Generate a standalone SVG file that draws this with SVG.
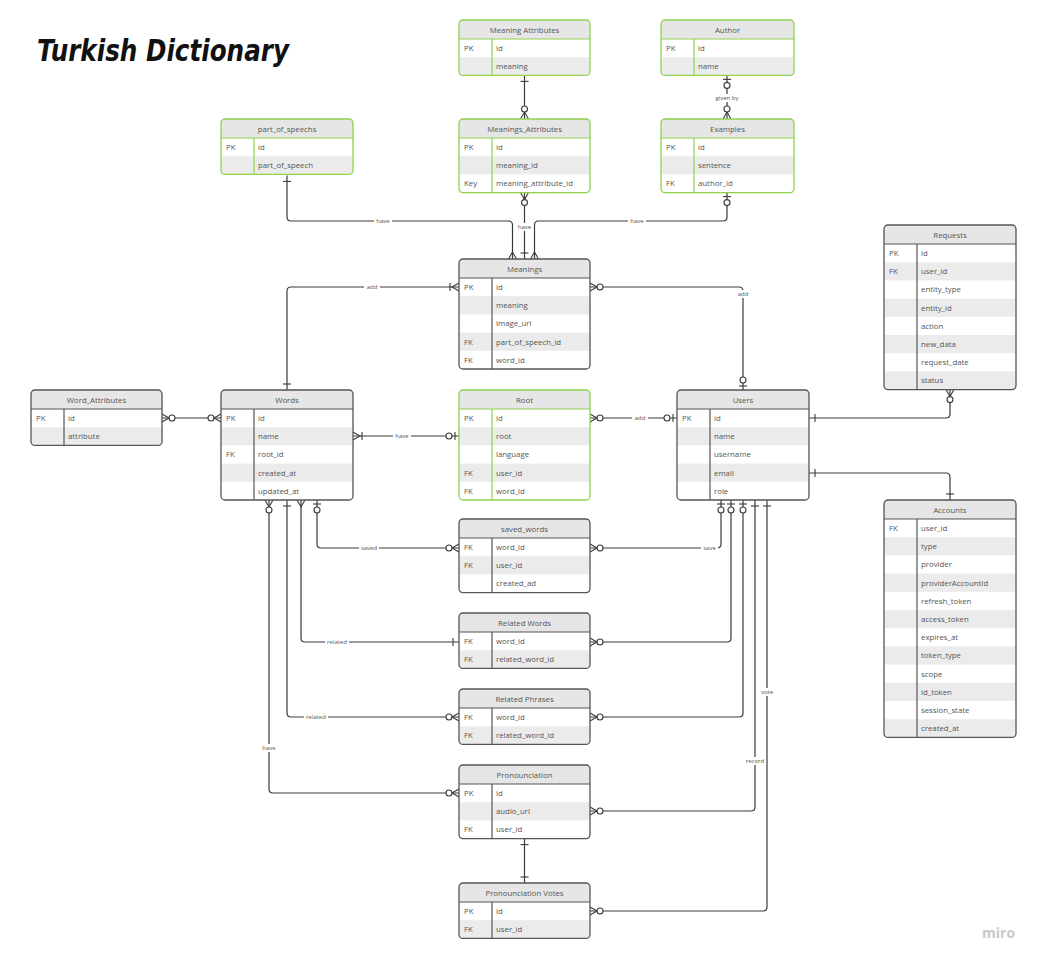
<svg xmlns="http://www.w3.org/2000/svg" width="1040" height="961" viewBox="0 0 1040 961">
<style>
text{font-family:"Open Sans","Liberation Sans",sans-serif;font-size:7.8px;fill:#555}
.h{text-anchor:middle}
.bg{fill:#fff}
.hd{fill:#e6e6e6}
.alt{fill:#ebebeb}
.ob{fill:none;stroke-width:1.3}
.G .ob,.G line{stroke:#8fd14f}
.D .ob,.D line{stroke:#555}
.G line,.D line{stroke-width:1.2}
.cn{fill:none;stroke:#3a3a3a;stroke-width:1.2}
.lb{font-size:6px;text-anchor:middle;fill:#555}
.lbg{fill:#fff}
.mk{fill:none;stroke:#3a3a3a;stroke-width:1.1}
.mc{fill:#fff;stroke:#3a3a3a;stroke-width:1.1}
.title{font-family:"DejaVu Sans",sans-serif;font-style:oblique;font-weight:bold;font-size:30px;fill:#111}
.miro{font-family:"Open Sans",sans-serif;font-weight:bold;font-size:14px;fill:#c8c8c8}
</style>
<defs>
<marker id="one" markerUnits="userSpaceOnUse" orient="auto-start-reverse" refX="0" refY="0" markerWidth="20" markerHeight="20" overflow="visible"><path class="mk" d="M-6,-4V4"/></marker>
<marker id="many" markerUnits="userSpaceOnUse" orient="auto-start-reverse" refX="0" refY="0" markerWidth="20" markerHeight="20" overflow="visible"><path class="mk" d="M0,-4L-7,0L0,4"/></marker>
<marker id="zmany" markerUnits="userSpaceOnUse" orient="auto-start-reverse" refX="0" refY="0" markerWidth="20" markerHeight="20" overflow="visible"><path class="mk" d="M0,-4L-7,0L0,4"/><circle class="mc" cx="-10" cy="0" r="3"/></marker>
<marker id="zone" markerUnits="userSpaceOnUse" orient="auto-start-reverse" refX="0" refY="0" markerWidth="20" markerHeight="20" overflow="visible"><path class="mk" d="M-4,-4V4"/><circle class="mc" cx="-10" cy="0" r="3"/></marker>
<marker id="omany" markerUnits="userSpaceOnUse" orient="auto-start-reverse" refX="0" refY="0" markerWidth="20" markerHeight="20" overflow="visible"><path class="mk" d="M0,-4L-7,0L0,4M-9,-4V4"/></marker>
</defs>
<rect width="1040" height="961" fill="#fff"/>
<text class="title" x="37" y="61" textLength="252" lengthAdjust="spacingAndGlyphs">Turkish Dictionary</text>

<g id="connectors">
<path class="cn" d="M524.5,75.4V119" marker-start="url(#one)" marker-end="url(#zmany)"/>
<path class="cn" d="M727,75.4V119" marker-start="url(#zone)" marker-end="url(#zmany)"/>
<path class="cn" d="M287,175.4V217Q287,221 291,221H508.5Q512.5,221 512.5,225V259" marker-start="url(#one)" marker-end="url(#many)"/>
<path class="cn" d="M524.5,192.6V259" marker-start="url(#zmany)" marker-end="url(#one)"/>
<path class="cn" d="M727,192.6V217Q727,221 723,221H538.5Q534.5,221 534.5,225V259" marker-start="url(#zone)" marker-end="url(#many)"/>
<path class="cn" d="M287,390V291Q287,287 291,287H459" marker-start="url(#one)" marker-end="url(#omany)"/>
<path class="cn" d="M590,287H739Q743,287 743,291V390" marker-start="url(#zmany)" marker-end="url(#zone)"/>
<path class="cn" d="M162,418H221" marker-start="url(#zmany)" marker-end="url(#zmany)"/>
<path class="cn" d="M459,436H353" marker-start="url(#zone)" marker-end="url(#omany)"/>
<path class="cn" d="M590,418H677" marker-start="url(#zmany)" marker-end="url(#zone)"/>
<path class="cn" d="M809,418H946Q950,418 950,414V389.6" marker-start="url(#one)" marker-end="url(#zmany)"/>
<path class="cn" d="M809,473H946Q950,473 950,477V500" marker-start="url(#one)" marker-end="url(#one)"/>
<path class="cn" d="M317,500V544Q317,548 321,548H459" marker-start="url(#zone)" marker-end="url(#zmany)"/>
<path class="cn" d="M301,500V638Q301,642 305,642H459" marker-start="url(#many)" marker-end="url(#one)"/>
<path class="cn" d="M287,500V713Q287,717 291,717H459" marker-start="url(#one)" marker-end="url(#zmany)"/>
<path class="cn" d="M269,500V789Q269,793 273,793H459" marker-start="url(#zmany)" marker-end="url(#zmany)"/>
<path class="cn" d="M721,500V544Q721,548 717,548H590" marker-start="url(#zone)" marker-end="url(#zmany)"/>
<path class="cn" d="M731,500V638Q731,642 727,642H590" marker-start="url(#zone)" marker-end="url(#zmany)"/>
<path class="cn" d="M743,500V713Q743,717 739,717H590" marker-start="url(#zone)" marker-end="url(#zmany)"/>
<path class="cn" d="M755,500V807Q755,811 751,811H590" marker-start="url(#one)" marker-end="url(#zmany)"/>
<path class="cn" d="M767,500V907Q767,911 763,911H590" marker-start="url(#one)" marker-end="url(#zmany)"/>
<path class="cn" d="M524.5,838.6V883" marker-start="url(#one)" marker-end="url(#one)"/>
<rect class="lbg" x="711" y="94" width="32" height="8"/><text class="lb" x="727" y="100">given by</text>
<rect class="lbg" x="374" y="217" width="18" height="8"/><text class="lb" x="383" y="223">have</text>
<rect class="lbg" x="516" y="223" width="17" height="8"/><text class="lb" x="524.5" y="229">have</text>
<rect class="lbg" x="628" y="217" width="18" height="8"/><text class="lb" x="637" y="223">have</text>
<rect class="lbg" x="364" y="283" width="16" height="8"/><text class="lb" x="372" y="289">add</text>
<rect class="lbg" x="735" y="290" width="16" height="8"/><text class="lb" x="743" y="296">add</text>
<rect class="lbg" x="393" y="432" width="18" height="8"/><text class="lb" x="402" y="438">have</text>
<rect class="lbg" x="632" y="414" width="16" height="8"/><text class="lb" x="640" y="420">add</text>
<rect class="lbg" x="359" y="544" width="20" height="8"/><text class="lb" x="369" y="550">saved</text>
<rect class="lbg" x="701" y="544" width="17" height="8"/><text class="lb" x="709.5" y="550">save</text>
<rect class="lbg" x="325" y="638" width="24" height="8"/><text class="lb" x="337" y="644">related</text>
<rect class="lbg" x="304" y="713" width="24" height="8"/><text class="lb" x="316" y="719">related</text>
<rect class="lbg" x="260" y="744" width="18" height="8"/><text class="lb" x="269" y="750">have</text>
<rect class="lbg" x="744" y="757" width="22" height="8"/><text class="lb" x="755" y="763">record</text>
<rect class="lbg" x="759" y="688" width="16" height="8"/><text class="lb" x="767" y="694">vote</text>
</g>

<g id="meaning-attributes" class="G" transform="translate(459,20)">
<rect class="bg" width="131" height="55.4" rx="4"/>
<path class="hd" d="M0,19V4Q0,0 4,0H127Q131,0 131,4V19Z"/>
<rect class="alt" x="0.6" y="37.2" width="129.8" height="17.6"/>
<line x1="0" y1="19" x2="131" y2="19"/><line x1="33" y1="19" x2="33" y2="55.4"/>
<rect class="ob" width="131" height="55.4" rx="4"/>
<text class="h" x="65.5" y="13">Meaning Attributes</text>
<text x="5" y="31">PK</text><text x="37" y="31">id</text>
<text x="37" y="49.2">meaning</text>
</g>

<g id="author" class="G" transform="translate(661,20)">
<rect class="bg" width="133" height="55.4" rx="4"/>
<path class="hd" d="M0,19V4Q0,0 4,0H129Q133,0 133,4V19Z"/>
<rect class="alt" x="0.6" y="37.2" width="131.8" height="17.6"/>
<line x1="0" y1="19" x2="133" y2="19"/><line x1="33" y1="19" x2="33" y2="55.4"/>
<rect class="ob" width="133" height="55.4" rx="4"/>
<text class="h" x="66.5" y="13">Author</text>
<text x="5" y="31">PK</text><text x="37" y="31">id</text>
<text x="37" y="49.2">name</text>
</g>

<g id="part-of-speechs" class="G" transform="translate(221,119)">
<rect class="bg" width="132" height="55.4" rx="4"/>
<path class="hd" d="M0,19V4Q0,0 4,0H128Q132,0 132,4V19Z"/>
<rect class="alt" x="0.6" y="37.2" width="130.8" height="17.6"/>
<line x1="0" y1="19" x2="132" y2="19"/><line x1="33" y1="19" x2="33" y2="55.4"/>
<rect class="ob" width="132" height="55.4" rx="4"/>
<text class="h" x="66" y="13">part_of_speechs</text>
<text x="5" y="31">PK</text><text x="37" y="31">id</text>
<text x="37" y="49.2">part_of_speech</text>
</g>

<g id="meanings-attributes" class="G" transform="translate(459,119)">
<rect class="bg" width="131" height="73.6" rx="4"/>
<path class="hd" d="M0,19V4Q0,0 4,0H127Q131,0 131,4V19Z"/>
<rect class="alt" x="0.6" y="37.2" width="129.8" height="18.2"/>
<line x1="0" y1="19" x2="131" y2="19"/><line x1="33" y1="19" x2="33" y2="73.6"/>
<rect class="ob" width="131" height="73.6" rx="4"/>
<text class="h" x="65.5" y="13">Meanings_Attributes</text>
<text x="5" y="31">PK</text><text x="37" y="31">id</text>
<text x="37" y="49.2">meaning_id</text>
<text x="5" y="67.4">Key</text><text x="37" y="67.4">meaning_attribute_id</text>
</g>

<g id="examples" class="G" transform="translate(661,119)">
<rect class="bg" width="133" height="73.6" rx="4"/>
<path class="hd" d="M0,19V4Q0,0 4,0H129Q133,0 133,4V19Z"/>
<rect class="alt" x="0.6" y="37.2" width="131.8" height="18.2"/>
<line x1="0" y1="19" x2="133" y2="19"/><line x1="33" y1="19" x2="33" y2="73.6"/>
<rect class="ob" width="133" height="73.6" rx="4"/>
<text class="h" x="66.5" y="13">Examples</text>
<text x="5" y="31">PK</text><text x="37" y="31">id</text>
<text x="37" y="49.2">sentence</text>
<text x="5" y="67.4">FK</text><text x="37" y="67.4">author_id</text>
</g>

<g id="meanings" class="D" transform="translate(459,259)">
<rect class="bg" width="131" height="110" rx="4"/>
<path class="hd" d="M0,19V4Q0,0 4,0H127Q131,0 131,4V19Z"/>
<rect class="alt" x="0.6" y="37.2" width="129.8" height="18.2"/>
<rect class="alt" x="0.6" y="73.6" width="129.8" height="18.2"/>
<line x1="0" y1="19" x2="131" y2="19"/><line x1="33" y1="19" x2="33" y2="110"/>
<rect class="ob" width="131" height="110" rx="4"/>
<text class="h" x="65.5" y="13">Meanings</text>
<text x="5" y="31">PK</text><text x="37" y="31">id</text>
<text x="37" y="49.2">meaning</text>
<text x="37" y="67.4">image_url</text>
<text x="5" y="85.6">FK</text><text x="37" y="85.6">part_of_speech_id</text>
<text x="5" y="103.8">FK</text><text x="37" y="103.8">word_id</text>
</g>

<g id="requests" class="D" transform="translate(884,225)">
<rect class="bg" width="132" height="164.6" rx="4"/>
<path class="hd" d="M0,19V4Q0,0 4,0H128Q132,0 132,4V19Z"/>
<rect class="alt" x="0.6" y="37.2" width="130.8" height="18.2"/>
<rect class="alt" x="0.6" y="73.6" width="130.8" height="18.2"/>
<rect class="alt" x="0.6" y="110" width="130.8" height="18.2"/>
<rect class="alt" x="0.6" y="146.4" width="130.8" height="17.6"/>
<line x1="0" y1="19" x2="132" y2="19"/><line x1="33" y1="19" x2="33" y2="164.6"/>
<rect class="ob" width="132" height="164.6" rx="4"/>
<text class="h" x="66" y="13">Requests</text>
<text x="5" y="31">PK</text><text x="37" y="31">id</text>
<text x="5" y="49.2">FK</text><text x="37" y="49.2">user_id</text>
<text x="37" y="67.4">entity_type</text>
<text x="37" y="85.6">entity_id</text>
<text x="37" y="103.8">action</text>
<text x="37" y="122">new_data</text>
<text x="37" y="140.2">request_date</text>
<text x="37" y="158.4">status</text>
</g>

<g id="word-attributes" class="D" transform="translate(31,390)">
<rect class="bg" width="131" height="55.4" rx="4"/>
<path class="hd" d="M0,19V4Q0,0 4,0H127Q131,0 131,4V19Z"/>
<rect class="alt" x="0.6" y="37.2" width="129.8" height="17.6"/>
<line x1="0" y1="19" x2="131" y2="19"/><line x1="33" y1="19" x2="33" y2="55.4"/>
<rect class="ob" width="131" height="55.4" rx="4"/>
<text class="h" x="65.5" y="13">Word_Attributes</text>
<text x="5" y="31">PK</text><text x="37" y="31">id</text>
<text x="37" y="49.2">attribute</text>
</g>

<g id="words" class="D" transform="translate(221,390)">
<rect class="bg" width="132" height="110" rx="4"/>
<path class="hd" d="M0,19V4Q0,0 4,0H128Q132,0 132,4V19Z"/>
<rect class="alt" x="0.6" y="37.2" width="130.8" height="18.2"/>
<rect class="alt" x="0.6" y="73.6" width="130.8" height="18.2"/>
<line x1="0" y1="19" x2="132" y2="19"/><line x1="33" y1="19" x2="33" y2="110"/>
<rect class="ob" width="132" height="110" rx="4"/>
<text class="h" x="66" y="13">Words</text>
<text x="5" y="31">PK</text><text x="37" y="31">id</text>
<text x="37" y="49.2">name</text>
<text x="5" y="67.4">FK</text><text x="37" y="67.4">root_id</text>
<text x="37" y="85.6">created_at</text>
<text x="37" y="103.8">updated_at</text>
</g>

<g id="root" class="G" transform="translate(459,390)">
<rect class="bg" width="131" height="110" rx="4"/>
<path class="hd" d="M0,19V4Q0,0 4,0H127Q131,0 131,4V19Z"/>
<rect class="alt" x="0.6" y="37.2" width="129.8" height="18.2"/>
<rect class="alt" x="0.6" y="73.6" width="129.8" height="18.2"/>
<line x1="0" y1="19" x2="131" y2="19"/><line x1="33" y1="19" x2="33" y2="110"/>
<rect class="ob" width="131" height="110" rx="4"/>
<text class="h" x="65.5" y="13">Root</text>
<text x="5" y="31">PK</text><text x="37" y="31">id</text>
<text x="37" y="49.2">root</text>
<text x="37" y="67.4">language</text>
<text x="5" y="85.6">FK</text><text x="37" y="85.6">user_id</text>
<text x="5" y="103.8">FK</text><text x="37" y="103.8">word_id</text>
</g>

<g id="users" class="D" transform="translate(677,390)">
<rect class="bg" width="132" height="110" rx="4"/>
<path class="hd" d="M0,19V4Q0,0 4,0H128Q132,0 132,4V19Z"/>
<rect class="alt" x="0.6" y="37.2" width="130.8" height="18.2"/>
<rect class="alt" x="0.6" y="73.6" width="130.8" height="18.2"/>
<line x1="0" y1="19" x2="132" y2="19"/><line x1="33" y1="19" x2="33" y2="110"/>
<rect class="ob" width="132" height="110" rx="4"/>
<text class="h" x="66" y="13">Users</text>
<text x="5" y="31">PK</text><text x="37" y="31">id</text>
<text x="37" y="49.2">name</text>
<text x="37" y="67.4">username</text>
<text x="37" y="85.6">email</text>
<text x="37" y="103.8">role</text>
</g>

<g id="accounts" class="D" transform="translate(884,500)">
<rect class="bg" width="132" height="237.4" rx="4"/>
<path class="hd" d="M0,19V4Q0,0 4,0H128Q132,0 132,4V19Z"/>
<rect class="alt" x="0.6" y="37.2" width="130.8" height="18.2"/>
<rect class="alt" x="0.6" y="73.6" width="130.8" height="18.2"/>
<rect class="alt" x="0.6" y="110" width="130.8" height="18.2"/>
<rect class="alt" x="0.6" y="146.4" width="130.8" height="18.2"/>
<rect class="alt" x="0.6" y="182.8" width="130.8" height="18.2"/>
<rect class="alt" x="0.6" y="219.2" width="130.8" height="17.6"/>
<line x1="0" y1="19" x2="132" y2="19"/><line x1="33" y1="19" x2="33" y2="237.4"/>
<rect class="ob" width="132" height="237.4" rx="4"/>
<text class="h" x="66" y="13">Accounts</text>
<text x="5" y="31">FK</text><text x="37" y="31">user_id</text>
<text x="37" y="49.2">type</text>
<text x="37" y="67.4">provider</text>
<text x="37" y="85.6">providerAccountId</text>
<text x="37" y="103.8">refresh_token</text>
<text x="37" y="122">access_token</text>
<text x="37" y="140.2">expires_at</text>
<text x="37" y="158.4">token_type</text>
<text x="37" y="176.6">scope</text>
<text x="37" y="194.8">id_token</text>
<text x="37" y="213">session_state</text>
<text x="37" y="231.2">created_at</text>
</g>

<g id="saved-words" class="D" transform="translate(459,519)">
<rect class="bg" width="131" height="73.6" rx="4"/>
<path class="hd" d="M0,19V4Q0,0 4,0H127Q131,0 131,4V19Z"/>
<rect class="alt" x="0.6" y="37.2" width="129.8" height="18.2"/>
<line x1="0" y1="19" x2="131" y2="19"/><line x1="33" y1="19" x2="33" y2="73.6"/>
<rect class="ob" width="131" height="73.6" rx="4"/>
<text class="h" x="65.5" y="13">saved_words</text>
<text x="5" y="31">FK</text><text x="37" y="31">word_id</text>
<text x="5" y="49.2">FK</text><text x="37" y="49.2">user_id</text>
<text x="37" y="67.4">created_ad</text>
</g>

<g id="related-words" class="D" transform="translate(459,613)">
<rect class="bg" width="131" height="55.4" rx="4"/>
<path class="hd" d="M0,19V4Q0,0 4,0H127Q131,0 131,4V19Z"/>
<rect class="alt" x="0.6" y="37.2" width="129.8" height="17.6"/>
<line x1="0" y1="19" x2="131" y2="19"/><line x1="33" y1="19" x2="33" y2="55.4"/>
<rect class="ob" width="131" height="55.4" rx="4"/>
<text class="h" x="65.5" y="13">Related Words</text>
<text x="5" y="31">FK</text><text x="37" y="31">word_id</text>
<text x="5" y="49.2">FK</text><text x="37" y="49.2">related_word_id</text>
</g>

<g id="related-phrases" class="D" transform="translate(459,689)">
<rect class="bg" width="131" height="55.4" rx="4"/>
<path class="hd" d="M0,19V4Q0,0 4,0H127Q131,0 131,4V19Z"/>
<rect class="alt" x="0.6" y="37.2" width="129.8" height="17.6"/>
<line x1="0" y1="19" x2="131" y2="19"/><line x1="33" y1="19" x2="33" y2="55.4"/>
<rect class="ob" width="131" height="55.4" rx="4"/>
<text class="h" x="65.5" y="13">Related Phrases</text>
<text x="5" y="31">FK</text><text x="37" y="31">word_id</text>
<text x="5" y="49.2">FK</text><text x="37" y="49.2">related_word_id</text>
</g>

<g id="pronounciation" class="D" transform="translate(459,765)">
<rect class="bg" width="131" height="73.6" rx="4"/>
<path class="hd" d="M0,19V4Q0,0 4,0H127Q131,0 131,4V19Z"/>
<rect class="alt" x="0.6" y="37.2" width="129.8" height="18.2"/>
<line x1="0" y1="19" x2="131" y2="19"/><line x1="33" y1="19" x2="33" y2="73.6"/>
<rect class="ob" width="131" height="73.6" rx="4"/>
<text class="h" x="65.5" y="13">Pronounciation</text>
<text x="5" y="31">PK</text><text x="37" y="31">id</text>
<text x="37" y="49.2">audio_url</text>
<text x="5" y="67.4">FK</text><text x="37" y="67.4">user_id</text>
</g>

<g id="pronounciation-votes" class="D" transform="translate(459,883)">
<rect class="bg" width="131" height="55.4" rx="4"/>
<path class="hd" d="M0,19V4Q0,0 4,0H127Q131,0 131,4V19Z"/>
<rect class="alt" x="0.6" y="37.2" width="129.8" height="17.6"/>
<line x1="0" y1="19" x2="131" y2="19"/><line x1="33" y1="19" x2="33" y2="55.4"/>
<rect class="ob" width="131" height="55.4" rx="4"/>
<text class="h" x="65.5" y="13">Pronounciation Votes</text>
<text x="5" y="31">PK</text><text x="37" y="31">id</text>
<text x="5" y="49.2">FK</text><text x="37" y="49.2">user_id</text>
</g>

<text class="miro" x="982" y="938">miro</text>
</svg>
